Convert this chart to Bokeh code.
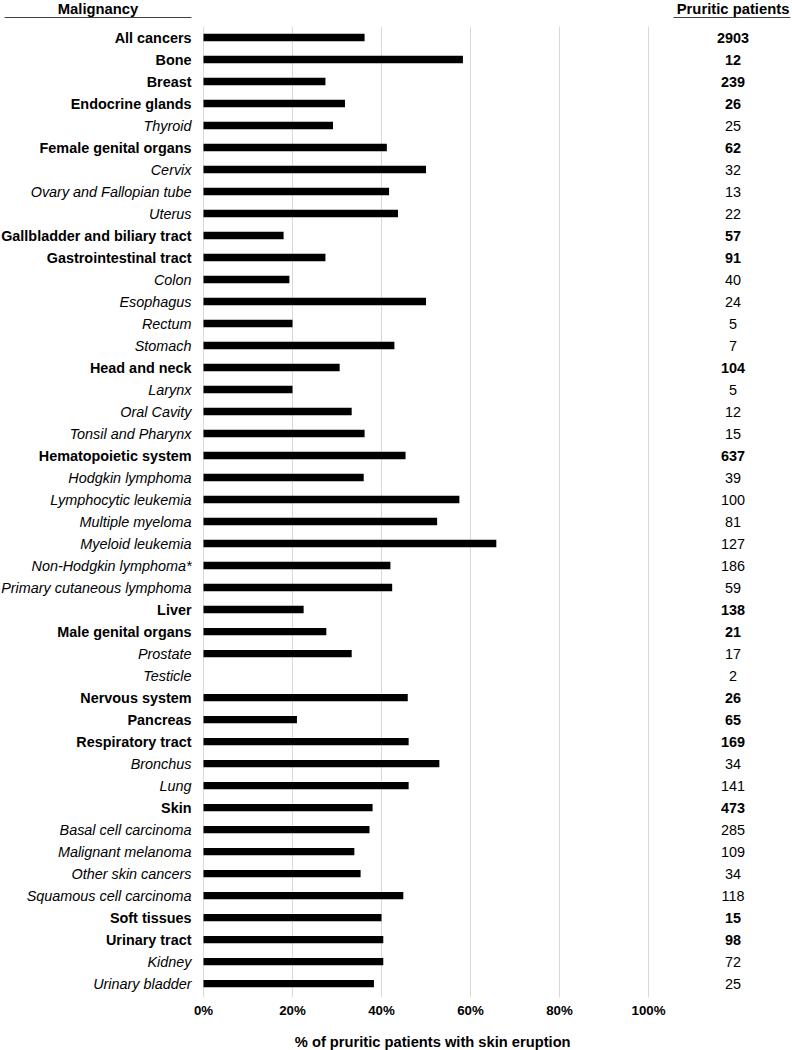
from bokeh.plotting import figure
from bokeh.models import ColumnDataSource, Range1d, FixedTicker, PrintfTickFormatter
from bokeh.core.properties import value, field
from bokeh.embed import file_html
from bokeh.resources import INLINE

# ---- data ----
malignancies = [
    "All cancers", "Bone", "Breast", "Endocrine glands", "Thyroid",
    "Female genital organs", "Cervix", "Ovary and Fallopian tube", "Uterus",
    "Gallbladder and biliary tract", "Gastrointestinal tract", "Colon", "Esophagus",
    "Rectum", "Stomach", "Head and neck", "Larynx", "Oral Cavity", "Tonsil and Pharynx",
    "Hematopoietic system", "Hodgkin lymphoma", "Lymphocytic leukemia", "Multiple myeloma",
    "Myeloid leukemia", "Non-Hodgkin lymphoma*", "Primary cutaneous lymphoma", "Liver",
    "Male genital organs", "Prostate", "Testicle", "Nervous system", "Pancreas",
    "Respiratory tract", "Bronchus", "Lung", "Skin", "Basal cell carcinoma",
    "Malignant melanoma", "Other skin cancers", "Squamous cell carcinoma", "Soft tissues",
    "Urinary tract", "Kidney", "Urinary bladder",
]
is_group = [
    True, True, True, True, False,
    True, False, False, False,
    True, True, False, False,
    False, False, True, False, False, False,
    True, False, False, False,
    False, False, False, True,
    True, False, False, True, True,
    True, False, False, True, False,
    False, False, False, True,
    True, False, False,
]
pct_with_eruption = [
    36.2, 58.3, 27.4, 31.8, 29.1,
    41.2, 50.0, 41.7, 43.7,
    18.0, 27.4, 19.3, 50.0,
    20.0, 42.9, 30.6, 20.0, 33.3, 36.2,
    45.4, 36.0, 57.5, 52.5,
    65.8, 42.0, 42.4, 22.5,
    27.6, 33.3, 0.0, 45.9, 21.0,
    46.1, 53.0, 46.1, 38.0, 37.3,
    33.9, 35.3, 44.9, 40.0,
    40.4, 40.4, 38.3,
]
pruritic_patients = [
    2903, 12, 239, 26, 25,
    62, 32, 13, 22,
    57, 91, 40, 24,
    5, 7, 104, 5, 12, 15,
    637, 39, 100, 81,
    127, 186, 59, 138,
    21, 17, 2, 26, 65,
    169, 34, 141, 473, 285,
    109, 34, 118, 15,
    98, 72, 25,
]
x_ticks = [0, 20, 40, 60, 80, 100]
headers = ["Malignancy", "Pruritic patients"]
x_title = "% of pruritic patients with skin eruption"

FONT = "Liberation Sans"

src = ColumnDataSource(dict(
    y=list(range(len(malignancies))),
    name=malignancies,
    pct=pct_with_eruption,
    n=[str(v) for v in pruritic_patients],
    label_style=["bold" if g else "italic" for g in is_group],
    count_style=["bold" if g else "normal" for g in is_group],
))

W, H = 792, 1050
p = figure(
    width=W, height=H,
    x_range=Range1d(-45.62, 132.36),
    y_range=Range1d(43.636, -0.5),
    output_backend="svg", toolbar_location=None,
    y_axis_location=None,
    min_border_left=0, min_border_right=0, min_border_top=26, min_border_bottom=53,
)
p.outline_line_color = None
p.background_fill_color = "white"
p.border_fill_color = "white"

# axis
ax = p.xaxis[0]
ax.ticker = FixedTicker(ticks=x_ticks)
ax.formatter = PrintfTickFormatter(format="%d%%")
ax.axis_line_color = None
ax.major_tick_line_color = None
ax.minor_tick_line_color = None
ax.major_tick_out = 0
ax.major_tick_in = 0
ax.major_label_standoff = 5
ax.major_label_text_font = FONT
ax.major_label_text_font_style = "bold"
ax.major_label_text_font_size = "13.3px"
ax.major_label_text_color = "#000000"

p.xgrid.grid_line_color = "#d9d9d9"
p.xgrid.grid_line_width = 1
p.ygrid.grid_line_color = None

# bars
p.hbar(y="y", left=0, right="pct", height=0.33, source=src,
       fill_color="#000000", line_color=None)

# row labels
p.text(x=0, y="y", text="name", source=src, x_offset=-12,
       text_font=value(FONT), text_font_size=value("14.4px"),
       text_font_style=field("label_style"), text_color="#000000",
       text_align="right", text_baseline="middle", level="overlay")

# counts
p.text(x=119.0, y="y", text="n", source=src,
       text_font=value(FONT), text_font_size=value("14.4px"),
       text_font_style=field("count_style"), text_color="#000000",
       text_align="center", text_baseline="middle", level="overlay")

# headers with underlines
p.text(x=[-23.7, 119.0], y=[-1.318, -1.318], text=headers,
       text_font=value(FONT), text_font_size=value("14.8px"),
       text_font_style="bold", text_color="#000000",
       text_align="center", text_baseline="middle", level="overlay")
p.segment(x0=[-44.7, 105.6], y0=[-0.909, -0.909], x1=[-2.7, 131.9], y1=[-0.909, -0.909],
          line_color="#404040", line_width=1, level="overlay")

# axis title
p.text(x=[51.5], y=[45.636], text=[x_title],
       text_font=value(FONT), text_font_size=value("14.7px"), text_font_style="bold",
       text_color="#000000", text_align="center", text_baseline="middle", level="overlay")

open("out.html", "w").write(file_html(p, INLINE))
